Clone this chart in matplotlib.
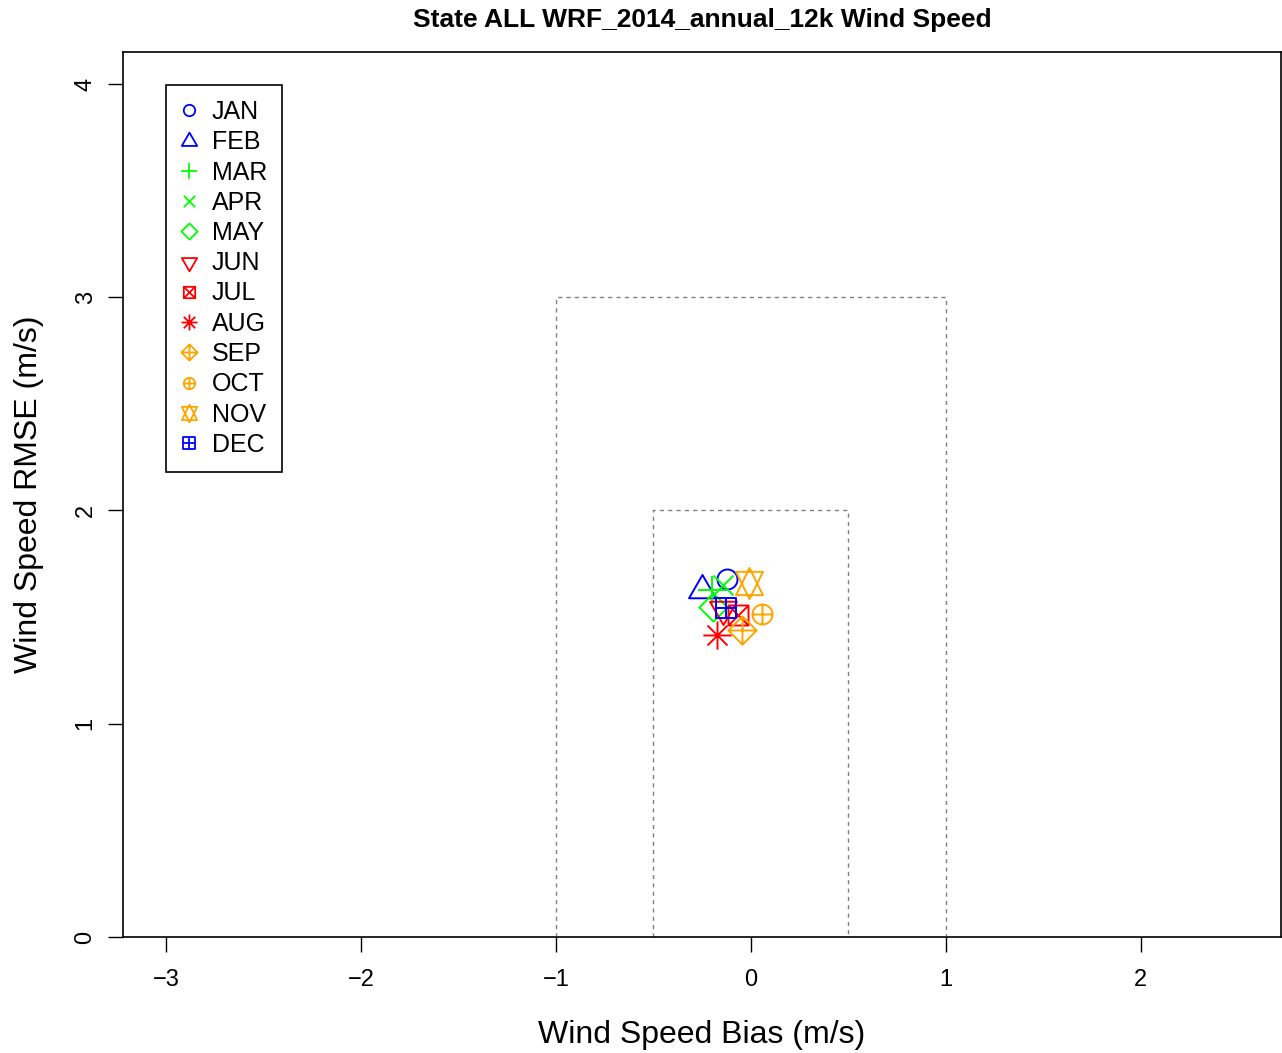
import matplotlib
matplotlib.use("Agg")
import matplotlib.pyplot as plt
from matplotlib.path import Path
import numpy as np

plt.rcParams['font.family'] = ['Liberation Sans', 'DejaVu Sans']

months = ["JAN", "FEB", "MAR", "APR", "MAY", "JUN", "JUL", "AUG", "SEP", "OCT", "NOV", "DEC"]
bias = [-0.123, -0.251, -0.20, -0.144, -0.195, -0.14, -0.067, -0.175, -0.046, 0.056, -0.01, -0.128]
rmse = [1.679, 1.627, 1.627, 1.65, 1.547, 1.54, 1.51, 1.416, 1.44, 1.515, 1.66, 1.543]
colors = ["#0000FF", "#0000FF", "#00FF00", "#00FF00", "#00FF00", "#FF0000", "#FF0000",
          "#FF0000", "#FFA500", "#FFA500", "#FFA500", "#0000FF"]
pch = [1, 2, 3, 4, 5, 6, 7, 8, 9, 10, 11, 12]

title = "State ALL WRF_2014_annual_12k Wind Speed"
xlabel = "Wind Speed Bias (m/s)"
ylabel = "Wind Speed RMSE (m/s)"
xticks = [-3, -2, -1, 0, 1, 2]
yticks = [0, 1, 2, 3, 4]

# R pch geometry in units of the circle radius
S2 = np.sqrt(2)
TRC0 = np.sqrt(4 * np.pi / (3 * np.sqrt(3)))
TRC1 = TRC0 * np.sqrt(3) / 2
TRC2 = TRC0 / 2


def seg(*pairs):
    verts, codes = [], []
    for a, b in pairs:
        verts += [a, b]
        codes += [Path.MOVETO, Path.LINETO]
    return Path(verts, codes)


def poly(pts):
    verts = list(pts) + [pts[0]]
    codes = [Path.MOVETO] + [Path.LINETO] * (len(pts) - 1) + [Path.CLOSEPOLY]
    return Path(verts, codes)


circle = Path.unit_circle()
tri_up = poly([(0, TRC0), (TRC1, -TRC2), (-TRC1, -TRC2)])
tri_dn = poly([(0, -TRC0), (TRC1, TRC2), (-TRC1, TRC2)])
plus = seg(((-S2, 0), (S2, 0)), ((0, -S2), (0, S2)))
plus1 = seg(((-1, 0), (1, 0)), ((0, -1), (0, 1)))
cross = seg(((-1, -1), (1, 1)), ((-1, 1), (1, -1)))
diamond = poly([(S2, 0), (0, S2), (-S2, 0), (0, -S2)])
square = poly([(1, 1), (-1, 1), (-1, -1), (1, -1)])
yc11 = 0.5 * (TRC2 + TRC0)
star_a = poly([(0, -TRC0), (TRC1, yc11), (-TRC1, yc11)])
star_b = poly([(0, TRC0), (TRC1, -yc11), (-TRC1, -yc11)])

shapes = {
    1: circle,
    2: tri_up,
    3: plus,
    4: cross,
    5: diamond,
    6: tri_dn,
    7: Path.make_compound_path(square, cross),
    8: Path.make_compound_path(plus, cross),
    9: Path.make_compound_path(diamond, plus),
    10: Path.make_compound_path(circle, plus1),
    11: Path.make_compound_path(star_a, star_b),
    12: Path.make_compound_path(square, plus1),
}


def msize(path, unit_px):
    m = np.max(np.abs(path.vertices))
    return 2 * m * unit_px * 0.72


W, H = 1282, 1053
fig = plt.figure(figsize=(W / 100, H / 100), dpi=100)
ax = fig.add_axes([123 / W, 1 - 937 / H, (1281 - 123) / W, (937 - 52) / H])

# dashed reference boxes
box_col = "#808080"
ax.plot([-1, -1, 1, 1], [0, 3, 3, 0], ls=(0, (3, 3)), color=box_col, lw=1.0)
ax.plot([-0.5, -0.5, 0.5, 0.5], [0, 2, 2, 0], ls=(0, (3, 3)), color=box_col, lw=1.0)

handles = []
for m, b, r, c, p in zip(months, bias, rmse, colors, pch):
    path = shapes[p]
    ax.plot([b], [r], ls="none", marker=path, ms=msize(path, 10.0),
            mfc="none", mec=c, mew=1.4)
    h, = ax.plot([], [], ls="none", marker=path, ms=msize(path, 5.7),
                 mfc="none", mec=c, mew=1.3, label=m)
    handles.append(h)

ax.set_xlim(-3.22, 2.72)
ax.set_ylim(0, 4.15)
ax.set_xticks(xticks)
ax.set_xticklabels([f"{t}".replace("-", "\u2212") for t in xticks])
ax.set_yticks(yticks)
ax.set_yticklabels([str(t) for t in yticks], rotation=90, va="center")
ax.tick_params(axis="both", length=11, width=1.0, labelsize=17, color="black")
ax.tick_params(axis="x", pad=12)
ax.tick_params(axis="y", pad=8)
for s in ax.spines.values():
    s.set_linewidth(1.2)

ax.set_xlabel(xlabel, fontsize=23, labelpad=21)
ax.set_ylabel(ylabel, fontsize=23, labelpad=22)
fig.text(702 / W, 1 - 20 / H, title, fontsize=19, fontweight="bold", ha="center", va="center")

leg = ax.legend(handles=handles, loc="upper left",
                bbox_to_anchor=((166 - 123) / (1281 - 123), (937 - 85) / (937 - 52)),
                borderaxespad=0, fontsize=18, frameon=True, fancybox=False,
                handlelength=0.64, handletextpad=0.6, labelspacing=0.25,
                borderpad=0.6, edgecolor="black", framealpha=1)
leg.get_frame().set_linewidth(1.2)

fig.savefig("out.png", dpi=100)
